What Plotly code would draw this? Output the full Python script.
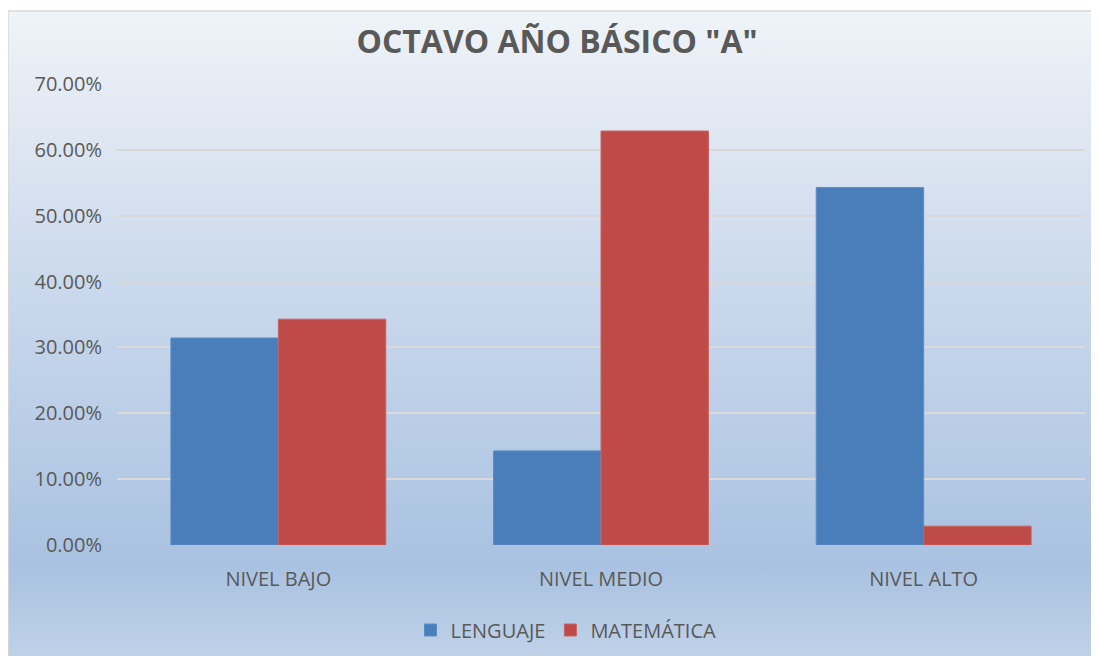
import base64
import plotly.graph_objects as go

# datos
niveles = ["NIVEL BAJO", "NIVEL MEDIO", "NIVEL ALTO"]
lenguaje = [0.3143, 0.1429, 0.5429]
matematica = [0.3429, 0.6286, 0.0286]

# la pagina tiene 8px de margen en el body: la figura empieza en (8, 8)
OFF = 8
W, H = 1099 - 2 * OFF, 664 - 2 * OFF
L, T = 117 - OFF, 84 - OFF
R, B = W + OFF - 1085, H + OFF - 545
pw, ph = W - L - R, H - T - B

# fondo degradado (estilo Excel) como imagen SVG
svg = """<svg xmlns='http://www.w3.org/2000/svg' width='100' height='100' preserveAspectRatio='none'>
<defs><linearGradient id='g' x1='0' y1='0' x2='0' y2='1'>
<stop offset='0' stop-color='#eff4f8'/>
<stop offset='0.11' stop-color='#e6ecf4'/>
<stop offset='0.44' stop-color='#c9d8ec'/>
<stop offset='0.86' stop-color='#a9c2e1'/>
<stop offset='1' stop-color='#bfd1e8'/>
</linearGradient></defs>
<rect width='100' height='100' fill='url(#g)'/></svg>"""
fondo = "data:image/svg+xml;base64," + base64.b64encode(svg.encode()).decode()

x0, y0 = 0, 11 - OFF  # esquina del marco del grafico
fig = go.Figure()
fig.add_trace(go.Bar(x=niveles, y=lenguaje, name="LENGUAJE",
                     marker=dict(color="#4a7ebb", line=dict(color="#5d8cc4", width=1))))
fig.add_trace(go.Bar(x=niveles, y=matematica, name="MATEMÁTICA",
                     marker=dict(color="#be4b48", line=dict(color="#c96360", width=1))))

fig.update_layout(
    width=W, height=H,
    margin=dict(l=L, r=R, t=T, b=B),
    paper_bgcolor="white",
    plot_bgcolor="rgba(0,0,0,0)",
    font=dict(family="Open Sans", size=20, color="#595959"),
    title=dict(text='OCTAVO AÑO BÁSICO "A"', x=(557 - OFF) / W, xanchor="center",
               y=1 - (42 - OFF) / H, yanchor="middle",
               font=dict(size=32, color="#595959", family="Open Sans", weight="bold")),
    barmode="group", bargap=0.334, bargroupgap=0,
    showlegend=True,
    legend=dict(orientation="h", x=(566 - OFF - L) / pw, xanchor="center",
                y=(T + ph - (630 - OFF)) / ph, yanchor="middle",
                font=dict(size=20, color="#595959"), bgcolor="rgba(0,0,0,0)"),
    xaxis=dict(showgrid=False, showline=False, zeroline=False,
               ticks="outside", ticklen=16, tickcolor="rgba(0,0,0,0)"),
    yaxis=dict(range=[0, 0.7], dtick=0.1, tickformat=".2%",
               showgrid=True, gridcolor="#d9d9d9", gridwidth=2,
               zeroline=False, showline=False,
               ticks="outside", ticklen=10, tickcolor="rgba(0,0,0,0)"),
    images=[dict(source=fondo, xref="paper", yref="paper",
                 x=(x0 - L) / pw, y=(T + ph - y0) / ph,
                 sizex=(W - x0) / pw, sizey=(H - y0) / ph,
                 sizing="stretch", xanchor="left", yanchor="top", layer="below")],
    shapes=[dict(type="rect", xref="paper", yref="paper",
                 x0=(x0 - L) / pw, x1=(W - L + 2) / pw,
                 y0=(T + ph - H - 2) / ph, y1=(T + ph - y0) / ph,
                 line=dict(color="#d9d9d9", width=1.5), fillcolor="rgba(0,0,0,0)",
                 layer="below")],
)

fig.write_html("out.html")
